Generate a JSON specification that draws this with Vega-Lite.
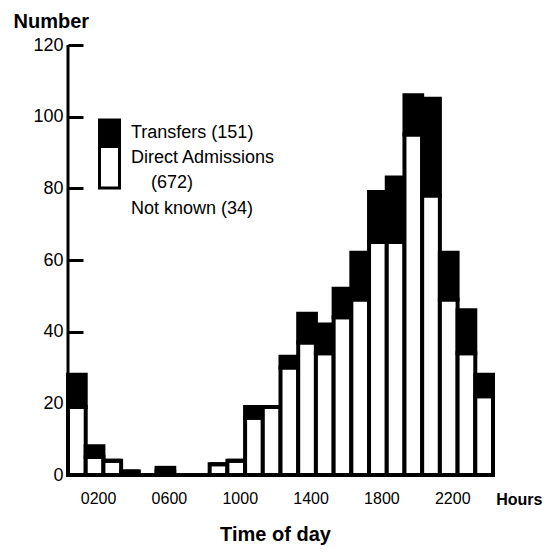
{
  "$schema": "https://vega.github.io/schema/vega-lite/v6.json",
  "width": 425,
  "height": 430,
  "autosize": {"type": "none"},
  "padding": {"left": 68, "top": 45, "right": 58, "bottom": 80},
  "background": "white",
  "config": {"view": {"stroke": null}, "font": "Liberation Sans"},
  "data": {"values": [
    {"hour": "0100", "type": "Direct Admissions", "count": 19}, {"hour": "0100", "type": "Transfers", "count": 9},
    {"hour": "0200", "type": "Direct Admissions", "count": 5}, {"hour": "0200", "type": "Transfers", "count": 3},
    {"hour": "0300", "type": "Direct Admissions", "count": 4}, {"hour": "0300", "type": "Transfers", "count": 0},
    {"hour": "0400", "type": "Direct Admissions", "count": 1}, {"hour": "0400", "type": "Transfers", "count": 0},
    {"hour": "0500", "type": "Direct Admissions", "count": 0}, {"hour": "0500", "type": "Transfers", "count": 0},
    {"hour": "0600", "type": "Direct Admissions", "count": 1}, {"hour": "0600", "type": "Transfers", "count": 1},
    {"hour": "0700", "type": "Direct Admissions", "count": 0}, {"hour": "0700", "type": "Transfers", "count": 0},
    {"hour": "0800", "type": "Direct Admissions", "count": 0}, {"hour": "0800", "type": "Transfers", "count": 0},
    {"hour": "0900", "type": "Direct Admissions", "count": 3}, {"hour": "0900", "type": "Transfers", "count": 0},
    {"hour": "1000", "type": "Direct Admissions", "count": 4}, {"hour": "1000", "type": "Transfers", "count": 0},
    {"hour": "1100", "type": "Direct Admissions", "count": 16}, {"hour": "1100", "type": "Transfers", "count": 3},
    {"hour": "1200", "type": "Direct Admissions", "count": 19}, {"hour": "1200", "type": "Transfers", "count": 0},
    {"hour": "1300", "type": "Direct Admissions", "count": 30}, {"hour": "1300", "type": "Transfers", "count": 3},
    {"hour": "1400", "type": "Direct Admissions", "count": 37}, {"hour": "1400", "type": "Transfers", "count": 8},
    {"hour": "1500", "type": "Direct Admissions", "count": 34}, {"hour": "1500", "type": "Transfers", "count": 8},
    {"hour": "1600", "type": "Direct Admissions", "count": 44}, {"hour": "1600", "type": "Transfers", "count": 8},
    {"hour": "1700", "type": "Direct Admissions", "count": 49}, {"hour": "1700", "type": "Transfers", "count": 13},
    {"hour": "1800", "type": "Direct Admissions", "count": 65}, {"hour": "1800", "type": "Transfers", "count": 14},
    {"hour": "1900", "type": "Direct Admissions", "count": 65}, {"hour": "1900", "type": "Transfers", "count": 18},
    {"hour": "2000", "type": "Direct Admissions", "count": 95}, {"hour": "2000", "type": "Transfers", "count": 11},
    {"hour": "2100", "type": "Direct Admissions", "count": 78}, {"hour": "2100", "type": "Transfers", "count": 27},
    {"hour": "2200", "type": "Direct Admissions", "count": 49}, {"hour": "2200", "type": "Transfers", "count": 13},
    {"hour": "2300", "type": "Direct Admissions", "count": 34}, {"hour": "2300", "type": "Transfers", "count": 12},
    {"hour": "2400", "type": "Direct Admissions", "count": 22}, {"hour": "2400", "type": "Transfers", "count": 6}
  ]},
  "layer": [
    {
      "mark": {"type": "bar", "stroke": "black", "strokeWidth": 4, "strokeJoin": "miter"},
      "encoding": {
        "x": {
          "field": "hour", "type": "ordinal",
          "scale": {"domain": ["0100","0200","0300","0400","0500","0600","0700","0800","0900","1000","1100","1200","1300","1400","1500","1600","1700","1800","1900","2000","2100","2200","2300","2400"], "paddingInner": 0, "paddingOuter": 0},
          "axis": {
            "values": ["0200","0600","1000","1400","1800","2200"],
            "title": "Time of day", "labelAngle": 0, "ticks": false,
            "domainColor": "black", "domainWidth": 3,
            "labelFontSize": 16, "labelColor": "black", "labelPadding": 15, "labelOffset": 4,
            "titleFontSize": 20, "titleFontWeight": "bold", "titleColor": "black",
            "titleX": 207, "titleY": 65, "titleBaseline": "alphabetic"
          }
        },
        "y": {
          "field": "count", "type": "quantitative", "stack": "zero",
          "scale": {"domain": [0, 120], "nice": false},
          "axis": {
            "values": [0, 20, 40, 60, 80, 100, 120],
            "offset": -15,
            "title": "Number", "titleAngle": 0, "titleAlign": "left",
            "titleX": -70, "titleY": -18, "titleBaseline": "alphabetic",
            "titleFontSize": 20, "titleFontWeight": "bold", "titleColor": "black",
            "grid": false, "domain": false,
            "tickColor": "black", "tickWidth": 3, "tickSize": 15,
            "labelFontSize": 18, "labelColor": "black", "labelPadding": 5
          }
        },
        "color": {
          "field": "type", "type": "nominal",
          "scale": {"domain": ["Transfers", "Direct Admissions", "Not known"], "range": ["black", "white", "white"]},
          "legend": {
            "orient": "none", "legendX": 30, "legendY": 72, "title": null,
            "padding": 0, "rowPadding": -12,
            "labelFontSize": 18, "labelColor": "black", "labelFont": "Liberation Sans",
            "labelOffset": 10, "labelLimit": 300,
            "symbolStrokeColor": "black", "symbolStrokeWidth": 3, "symbolSize": 400,
            "labelExpr": "datum.label === 'Transfers' ? 'Transfers (151)' : datum.label === 'Direct Admissions' ? ['Direct Admissions', '\u200b\u00a0\u00a0\u00a0\u00a0(672)'] : 'Not known (34)'",
            "encode": {
              "symbols": {"update": {
                "shape": {"signal": "datum.value === 'Transfers' ? 'M-1,-0.85H1V1.7H-1Z' : datum.value === 'Direct Admissions' ? 'M-1,-2.9H1V1.25H-1Z' : 'M-1,-3H1V0H-1Z'"},
                "opacity": {"signal": "datum.value === 'Not known' ? 0 : 1"}
              }},
              "labels": {"update": {
                "lineHeight": {"value": 25},
                "dy": {"signal": "datum.value === 'Transfers' ? 4 : datum.value === 'Direct Admissions' ? -18 : -4"}
              }}
            }
          }
        },
        "order": {"field": "type", "sort": "ascending"}
      }
    },
    {
      "data": {"values": [{"axis": "y"}]},
      "mark": {"type": "rule", "strokeWidth": 3, "color": "black"},
      "encoding": {
        "x": {"datum": "0100", "bandPosition": 0},
        "y": {"datum": 0},
        "y2": {"datum": 120}
      }
    },
    {
      "data": {"values": [{"label": "Hours"}]},
      "mark": {"type": "text", "align": "left", "baseline": "middle", "dx": 12, "dy": 25, "fontSize": 16, "fontWeight": "bold", "color": "black", "font": "Liberation Sans"},
      "encoding": {
        "x": {"datum": "2400"},
        "y": {"datum": 0},
        "text": {"field": "label"}
      }
    }
  ]
}
